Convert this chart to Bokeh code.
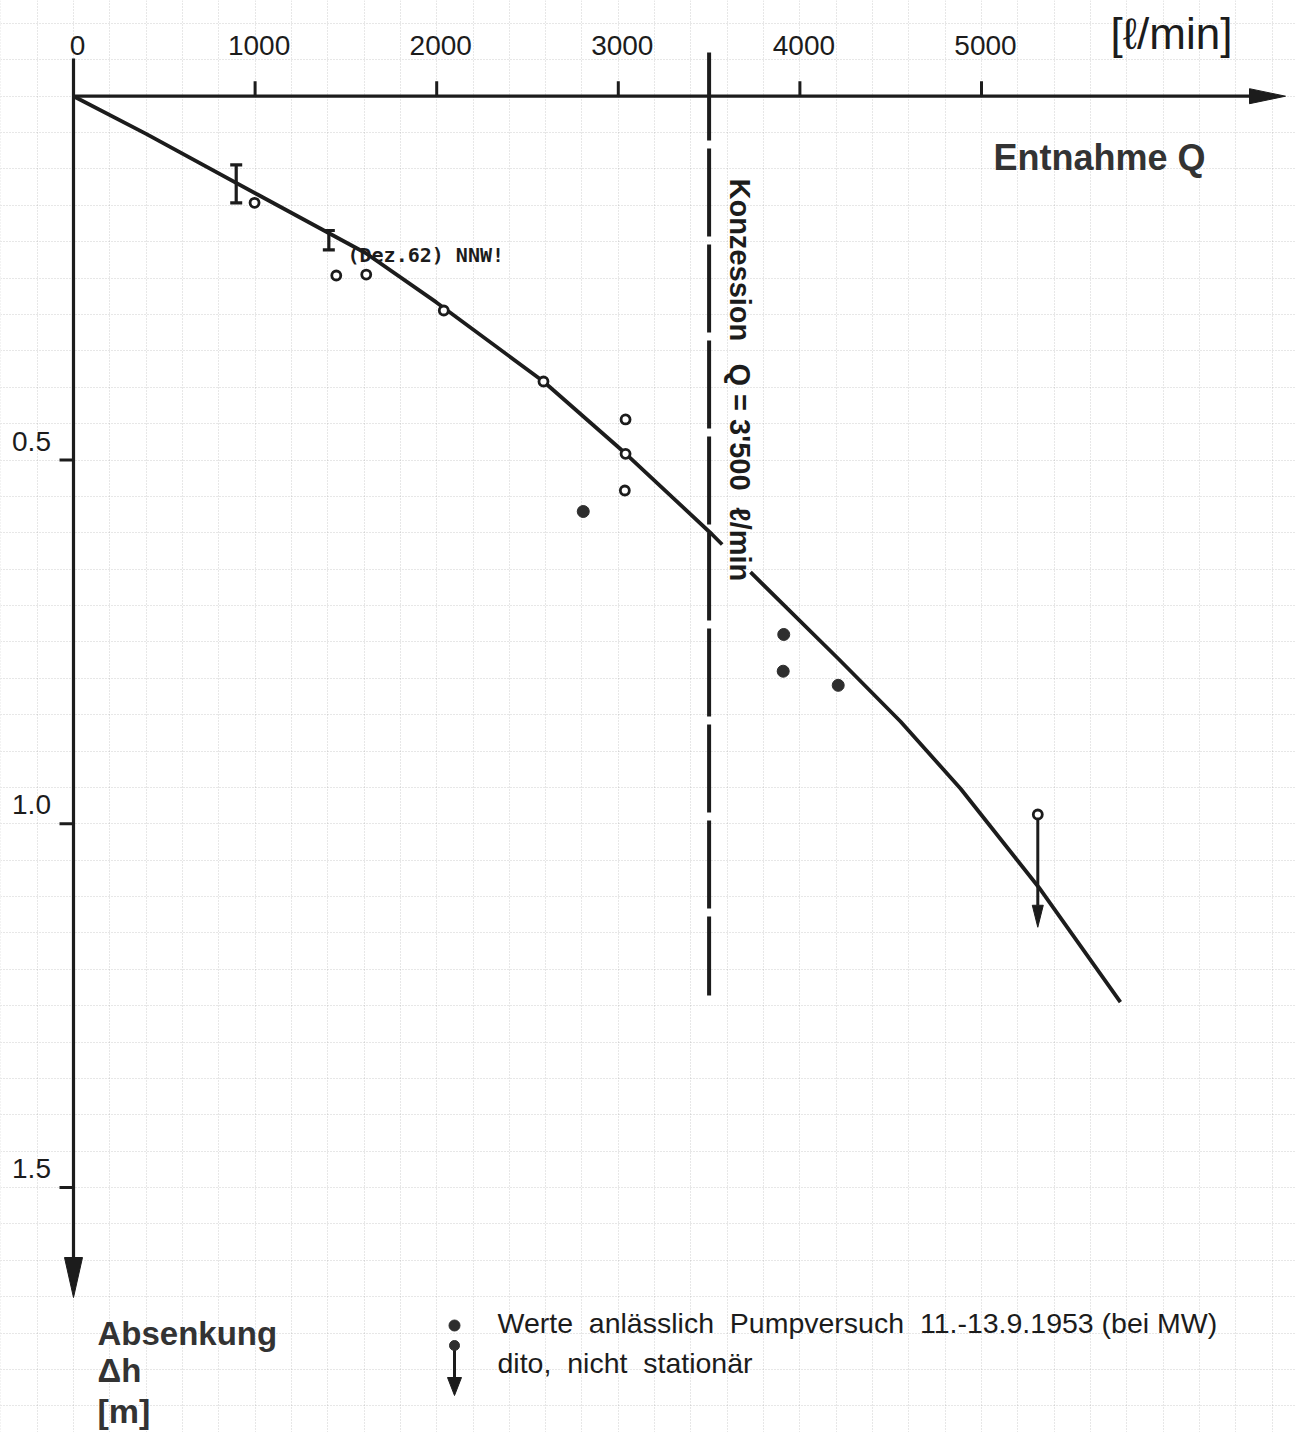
import numpy as np
from bokeh.plotting import figure
from bokeh.models import Range1d, Grid, SingleIntervalTicker, Whisker, TeeHead, ColumnDataSource
from bokeh.core.properties import value
from bokeh.embed import file_html
from bokeh.resources import INLINE

# ---------------- data ----------------
X_TICKS = [0, 1000, 2000, 3000, 4000, 5000]
X_TICK_LABELS = ["0", "1000", "2000", "3000", "4000", "5000"]
Y_TICKS = [0.5, 1.0, 1.5]
Y_TICK_LABELS = ["0.5", "1.0", "1.5"]

# fitted curve Q [l/min] -> drawdown [m], interrupted by the "Konzession" label
CURVE_A_Q = [0, 400, 1006, 1608, 1997, 2588, 3040, 3517, 3572]
CURVE_A_DH = [0.0, 0.0517, 0.1341, 0.2155, 0.2831, 0.3921, 0.4911, 0.6024, 0.6161]
CURVE_B_Q = [3728, 4213, 4554, 4884, 5316, 5765]
CURVE_B_DH = [0.6542, 0.7735, 0.8594, 0.9515, 1.0875, 1.2452]

# open circles
OPEN_Q = [997, 1447, 1612, 2039, 2588, 3040, 3040, 3036]
OPEN_DH = [0.1465, 0.2464, 0.2451, 0.2945, 0.3921, 0.4443, 0.4915, 0.5419]

# filled circles: Pumpversuch 11.-13.9.1953 (bei MW)
FILLED_Q = [2807, 3911, 3908, 4211]
FILLED_DH = [0.5708, 0.7398, 0.7903, 0.8097]

# ranges (Dez. 62, NNW)
NNW_Q = [896, 1406]
NNW_LOW = [0.0943, 0.1846]
NNW_HIGH = [0.1465, 0.2111]

# not stationary value (circle with arrow)
NONSTAT_Q = [5310]
NONSTAT_DH = [0.9872]
NONSTAT_DH_END = [1.1422]

KONZ_Q = 3500
NB = "\u00a0"
KONZ_LABELS = ["Konzession", "Q" + NB + "=" + NB + "3'500", "\u2113/min"]
X_UNIT = "[\u2113/min]"
X_TITLE = "Entnahme Q"
NNW_LABEL = "(Dez.62) NNW!"
Y_TITLE = ["Absenkung", "\u0394h", "[m]"]
LEGEND_LABELS = ["Werte" + NB + " anl\u00e4sslich" + NB + " Pumpversuch" + NB + " 11.-13.9.1953 (bei" + NB + "MW)",
                 "dito," + NB + " nicht" + NB + " station\u00e4r"]

# ---------------- layout (picture pixels) ----------------
W, H = 1296, 1432
ORIGIN_X, ORIGIN_Y = 73.0, 95.7     # picture pixels of Q=0, dh=0
SX = 0.1816                          # px per l/min
SY = 727.6                           # px per m


def qx(px):
    return (px - ORIGIN_X) / SX


def hy(py):
    return (py - ORIGIN_Y) / SY


def dq(px):
    return px / SX


def dd(px):
    return px / SY


INK = "#1c1c1c"
FONT = "Liberation Sans"
FONT_M = "DejaVu Sans Mono"

p = figure(width=W, height=H,
           x_range=Range1d(qx(0), qx(W)),
           y_range=Range1d(hy(H), hy(0)),
           x_axis_type=None, y_axis_type=None,
           toolbar_location=None, output_backend="svg", min_border=0,
           outline_line_color=None, background_fill_color="white",
           border_fill_color="white")

# graph paper
for dim, step in ((0, 200), (1, 0.05)):
    p.add_layout(Grid(dimension=dim, ticker=SingleIntervalTicker(interval=step),
                      grid_line_color="#8a8a8a", grid_line_alpha=0.4,
                      grid_line_dash="1 2", grid_line_width=1))

# axes
X_END = qx(1285)
Y_TOP = hy(58)
Y_END = hy(1297)
p.segment(x0=[0, 0], y0=[0, Y_TOP], x1=[X_END - dq(20), 0], y1=[0, Y_END - dd(20)],
          line_width=3.2, line_color=INK)
p.patches(xs=[[X_END - dq(36), X_END, X_END - dq(36)], [-dq(9), 0, dq(9)]],
          ys=[[-dd(7.5), 0, dd(7.5)], [Y_END - dd(40), Y_END, Y_END - dd(40)]],
          fill_color=INK, line_color=INK, line_width=1)

# ticks
p.segment(x0=X_TICKS[1:], y0=[0] * 5, x1=X_TICKS[1:], y1=[-dd(15)] * 5,
          line_width=3, line_color=INK)
p.segment(x0=[-dq(14)] * 3, y0=Y_TICKS, x1=[0] * 3, y1=Y_TICKS,
          line_width=3, line_color=INK)

p.text(x=X_TICKS, y=[-dd(51)] * len(X_TICKS), text=X_TICK_LABELS, x_offset=4,
       text_align="center", text_baseline="middle", text_font=value(FONT),
       text_font_size="28px", text_color=INK)
p.text(x=[qx(31)] * 3, y=[v - dd(19) for v in Y_TICKS], text=Y_TICK_LABELS,
       text_align="center", text_baseline="middle", text_font=value(FONT),
       text_font_size="28px", text_color=INK)

p.text(x=[qx(1171)], y=[hy(33)], text=[X_UNIT], text_align="center",
       text_baseline="middle", text_font=value(FONT), text_font_size="44px",
       text_color=INK)
p.text(x=[qx(993)], y=[hy(157)], text=[X_TITLE], text_align="left",
       text_baseline="alphabetic", text_font=value(FONT), text_font_style="bold",
       text_font_size="36px", text_color="#333333")

# Konzession line and label
p.segment(x0=[KONZ_Q], y0=[hy(52)], x1=[KONZ_Q], y1=[hy(995)],
          line_width=4, line_color=INK, line_dash="88 8")
p.text(x=[qx(739)] * 3, y=[hy(178), hy(363), hy(507)], text=KONZ_LABELS,
       angle=-np.pi / 2, text_align="left", text_baseline="alphabetic",
       text_font=value(FONT), text_font_style="bold", text_font_size="29px",
       text_color=INK)

# curve
p.line(CURVE_A_Q, CURVE_A_DH, line_width=3.8, line_color=INK)
p.line(CURVE_B_Q, CURVE_B_DH, line_width=3.8, line_color=INK)

# NNW ranges
src = ColumnDataSource(dict(q=NNW_Q, lo=NNW_LOW, hi=NNW_HIGH))
p.add_layout(Whisker(source=src, base="q", lower="lo", upper="hi", dimension="height",
                     line_width=3.2, line_color=INK,
                     lower_head=TeeHead(size=12, line_width=3.2, line_color=INK),
                     upper_head=TeeHead(size=12, line_width=3.2, line_color=INK)))
p.text(x=[qx(347)], y=[hy(254)], text=[NNW_LABEL], text_align="left",
       text_baseline="alphabetic", text_font=value(FONT_M), text_font_style="bold",
       text_font_size="20px", text_color=INK)

# points
p.scatter(OPEN_Q, OPEN_DH, marker="circle", size=9, fill_color="white",
          line_color=INK, line_width=2.8)
p.scatter(FILLED_Q, FILLED_DH, marker="circle", size=12, fill_color="#2e2e2e",
          line_color="#2e2e2e")

# non-stationary value with arrow
HEAD_L, HEAD_W = 22, 11
p.segment(x0=NONSTAT_Q, y0=NONSTAT_DH, x1=NONSTAT_Q,
          y1=[v - dd(HEAD_L) for v in NONSTAT_DH_END], line_width=3, line_color=INK)
p.patches(xs=[[q - dq(HEAD_W / 2), q, q + dq(HEAD_W / 2)] for q in NONSTAT_Q],
          ys=[[v - dd(HEAD_L), v, v - dd(HEAD_L)] for v in NONSTAT_DH_END],
          fill_color=INK, line_color=INK)
p.scatter(NONSTAT_Q, NONSTAT_DH, marker="circle", size=9, fill_color="white",
          line_color=INK, line_width=2.8)

# legend (hand lettered)
LX = qx(454)
p.scatter([LX], [hy(1325)], marker="circle", size=11, fill_color="#2e2e2e",
          line_color="#2e2e2e")
p.segment(x0=[LX], y0=[hy(1345)], x1=[LX], y1=[hy(1380)], line_width=3, line_color=INK)
p.patch(x=[LX - dq(7), LX, LX + dq(7)], y=[hy(1377), hy(1395), hy(1377)],
        fill_color=INK, line_color=INK)
p.scatter([LX], [hy(1345)], marker="circle", size=10, fill_color="#2e2e2e",
          line_color="#2e2e2e")
p.text(x=[qx(497)] * 2, y=[hy(1322), hy(1362)], text=LEGEND_LABELS, text_align="left",
       text_baseline="alphabetic", text_font=value(FONT), text_font_size="28.5px",
       text_color=INK)

# y title block
p.text(x=[qx(97)] * 2, y=[hy(1333), hy(1370)], text=Y_TITLE[:2],
       text_align="left", text_baseline="alphabetic", text_font=value(FONT),
       text_font_style="bold", text_font_size="33px", text_color="#333333")
p.text(x=[qx(97)], y=[hy(1410)], text=Y_TITLE[2:],
       text_align="left", text_baseline="alphabetic", text_font=value(FONT),
       text_font_style="bold", text_font_size="34px", text_color="#333333")

open("out.html", "w").write(file_html(p, INLINE))
